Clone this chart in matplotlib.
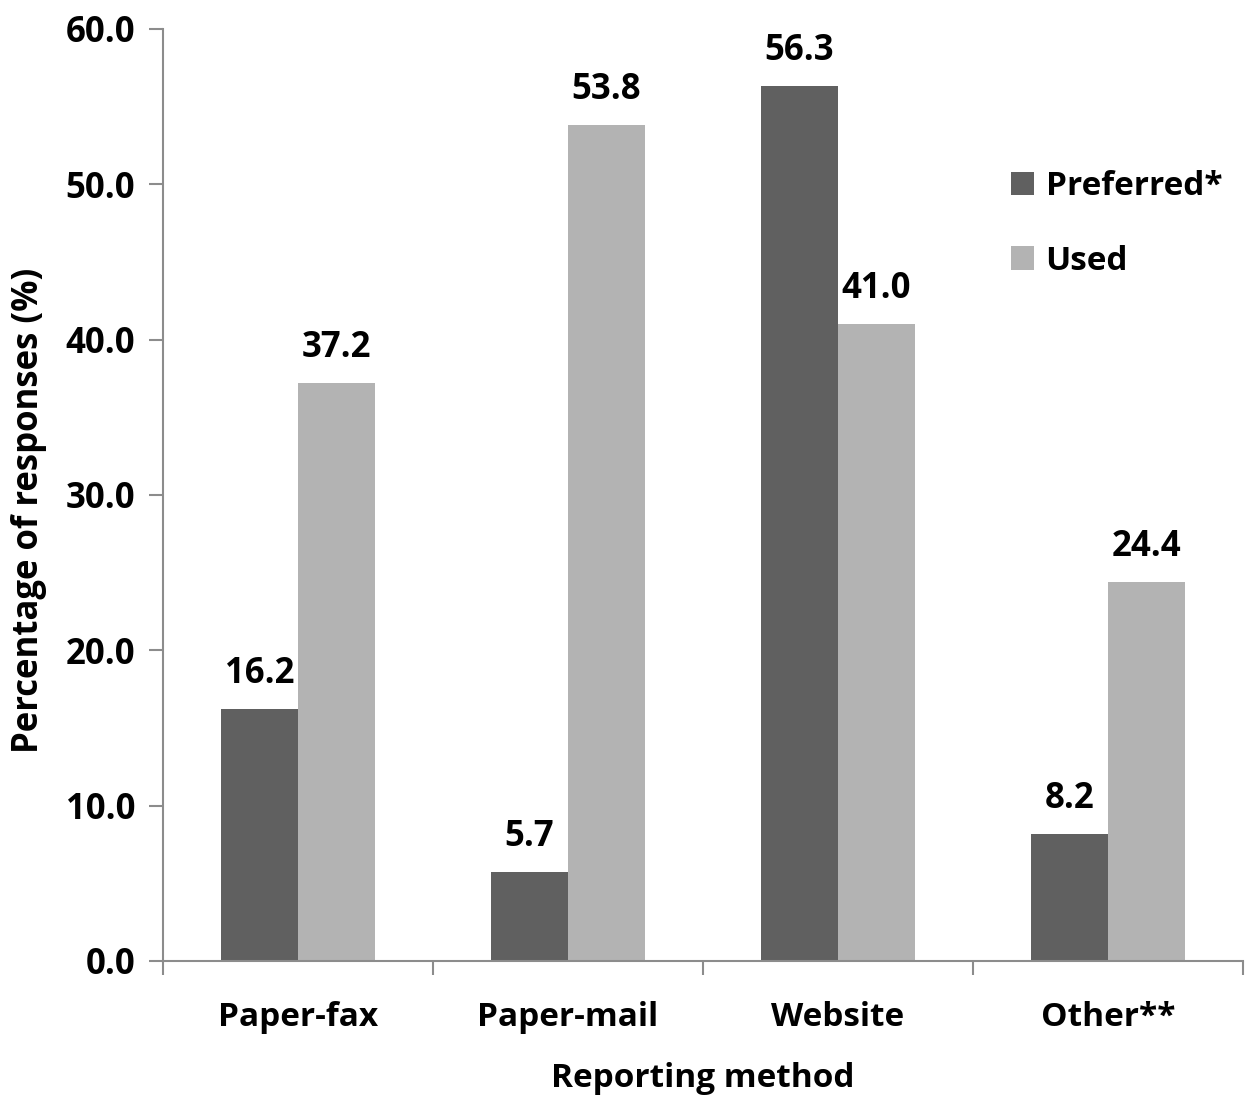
import numpy as np
import matplotlib.pyplot as plt

plt.rcParams['font.family'] = ['Open Sans', 'DejaVu Sans']
plt.rcParams['font.weight'] = 'bold'

methods = ["Paper-fax", "Paper-mail", "Website", "Other**"]
preferred = [16.2, 5.7, 56.3, 8.2]
used = [37.2, 53.8, 41.0, 24.4]

dark = '#606060'
light = '#b3b3b3'
axcol = '#8c8c8c'

fig = plt.figure(figsize=(12.53, 10.98), dpi=100)
ax = fig.add_axes([0.130, 0.1248, 0.862, 0.8488])

x = np.arange(len(methods))
w = 0.285
b1 = ax.bar(x - w/2, preferred, w, color=dark, label='Preferred*')
b2 = ax.bar(x + w/2, used, w, color=light, label='Used')

# value labels above each bar
for bars, vals in ((b1, preferred), (b2, used)):
    for r, v in zip(bars, vals):
        ax.text(r.get_x() + r.get_width()/2, v + 1.1, f"{v:.1f}",
                ha='center', va='bottom', fontsize=25, fontweight='bold')

ax.set_xlim(-0.5, 3.5)
ax.set_ylim(0, 60)
ax.set_yticks(np.arange(0, 61, 10))
ax.set_yticklabels([f"{t:.1f}" for t in np.arange(0, 61, 10)])
ax.set_xticks(x)
ax.set_xticklabels(methods)
ax.set_xticks(np.arange(-0.5, 4, 1), minor=True)
ax.tick_params(axis='x', which='major', length=0, pad=29, labelsize=24)
ax.tick_params(axis='x', which='minor', length=10, width=1.5, color=axcol)
ax.tick_params(axis='y', length=10, width=1.5, color=axcol, labelsize=25, pad=10)

for s in ('top', 'right'):
    ax.spines[s].set_visible(False)
for s in ('left', 'bottom'):
    ax.spines[s].set_color(axcol)
    ax.spines[s].set_linewidth(1.5)

ax.set_xlabel("Reporting method", fontsize=24, fontweight='bold', labelpad=20)
ax.set_ylabel("Percentage of responses (%)", fontsize=25, fontweight='bold')
ax.yaxis.set_label_coords(-0.107, 0.483)

ax.legend(loc='upper left', bbox_to_anchor=(0.757, 0.881), frameon=False,
          fontsize=24, handlelength=0.7, handleheight=0.7, handletextpad=0.35,
          labelspacing=1.25)

fig.savefig("out.png", dpi=100)
